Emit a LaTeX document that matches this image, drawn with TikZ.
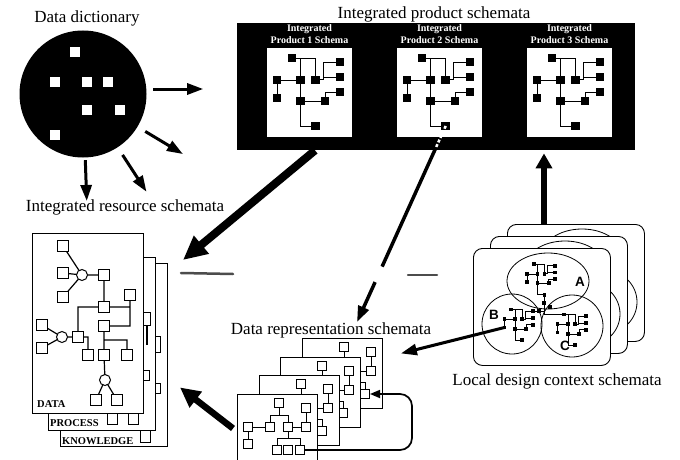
\documentclass[tikz,border=0pt]{standalone}
\usepackage{fontspec}
\setmainfont{Liberation Serif}
\newfontfamily\labelsans{Liberation Sans}
\usetikzlibrary{arrows.meta,calc}

\tikzset{
  % tree of black boxes used in the product schemata (and, scaled, in the context rings)
  pics/prodtree/.style={code={
    \draw[line width=0.7pt]
      (25,10) -| (33.5,32) (25,10) -| (48.7,32)
      (10,32) -- (33.5,32) (10,32) -- (10,50) (33.5,32) -- (33.5,53)
      (48.7,31) -- (56,31) |- (73,14) (56,29) -- (73,29)
      (33.5,53) -- (58,53) (58,53) |- (73,44) (33.5,53) |- (48.7,78);
    \foreach \x/\y in {25/10,73/14,10/32,33.5/32,48.7/32,73/29,10/50,33.5/53,58/53,73/44,48.7/78}
      \fill (\x-4.25,\y-4.25) rectangle (\x+4.25,\y+4.25);
    \coordinate (-a) at (25,10);
    \coordinate (-r1) at (73,14);
    \coordinate (-c1) at (10,50);
    \coordinate (-d) at (48.7,78);
  }},
  % tree of open boxes on a data representation sheet
  pics/reptree/.style={code={
    \draw[line width=1pt]
      (42,9) -- (42,21) (33,21) -- (51,21) (33,21) -- (33,33) (51,21) -- (51,33)
      (11,33) -- (33,33) (51,33) -- (69,33) (69,14) -- (69,33) (11,33) -- (11,50)
      (51,33) -- (51,44) (40,44) -- (63,44) (40,44) -- (40,56) (63,44) -- (63,56);
    \foreach \x/\y in {42/9,69/14,11/33,33/33,51/33,69/33,11/50,40/56,51/56,63/56}
      \draw[line width=0.9pt, fill=white] (\x-4.5,\y-4.5) rectangle (\x+4.5,\y+4.5);
    \coordinate (-sq) at (63,56);
  }},
  % the three overlapping context rings of a context sheet
  pics/ctxrings/.style={code={
    \draw[line width=0.8pt] (75,33) ellipse [x radius=41pt, y radius=28pt];
    \draw[line width=0.8pt] (39,76) circle [radius=30pt];
    \draw[line width=0.8pt] (99,78) circle [radius=31pt];
  }},
}

\begin{document}
\begin{tikzpicture}[x=1pt,y=-1pt,
  title/.style={font=\fontsize{17}{20}\selectfont, inner sep=0pt},
  paneltitle/.style={font=\fontsize{10}{12}\selectfont\bfseries, text=white, align=center, inner sep=0pt},
  pagetag/.style={font=\fontsize{10.5}{12}\selectfont\bfseries, inner sep=0pt, anchor=base west},
  regionlab/.style={font=\labelsans\fontsize{13.5}{15}\selectfont\bfseries, inner sep=0pt},
  sheet/.style={draw, fill=white, line width=1pt, inner sep=0pt, anchor=north west},
  ctxsheet/.style={sheet, line width=0.9pt, rounded corners=9pt, minimum width=137pt, minimum height=117pt},
  repsheet/.style={sheet, line width=0.9pt, minimum width=80pt, minimum height=70pt},
  thinarrow/.style={line width=3pt, -{Triangle[length=16pt,width=11pt]}},
  thickarrow/.style={line width=8pt, -{Triangle[length=24pt,width=22pt]}},
  midarrow/.style={line width=6.5pt, -{Triangle[length=20pt,width=19pt]}},
  uparrow/.style={line width=6pt, -{Triangle[length=15pt,width=16pt]}},
  looparrow/.style={line width=1.7pt, rounded corners=12pt, -{Triangle[length=10pt,width=8pt]}},
  openbox/.style={draw, fill=white, line width=1pt},
]
\clip (0,0) rectangle (680,460);
\fill[white] (0,0) rectangle (680,460);

% ---------- data dictionary ----------
\node[title] (dictlab) at (87,18) {Data dictionary};
\node[circle, fill=black, minimum size=127pt, inner sep=0pt] (dict) at (83,94) {};
\foreach \x/\y in {75/52,55/82,87/82,108/82,87/110,120/110,55/135}
  \fill[white] (\x-5,\y-5) rectangle (\x+5,\y+5);

% ---------- integrated product schemata ----------
\node[title] (prodlab) at (434,14) {Integrated product schemata};
\node[fill=black, minimum width=398pt, minimum height=127pt, inner sep=0pt, anchor=north west] (prodbox) at (237,23) {};
\foreach \i/\x in {1/267,2/397,3/527}{
  \node[fill=white, minimum width=85pt, minimum height=89pt, inner sep=0pt, anchor=north west] (panel\i) at (\x,48) {};
  \node[paneltitle] (ptitle\i) at (\x+42.5,34) {Integrated\\Product \i\ Schema};
  \pic (pt\i) at (\x,48) {prodtree};
}

% ---------- integrated resource schemata ----------
\node[title] (reslab) at (125,207) {Integrated resource schemata};
\node[sheet, minimum width=107pt, minimum height=183pt] (know) at (60,263) {};
\draw[openbox] (150,336) rectangle (160,352);
\draw[openbox] (150,383) rectangle (160,393);
\draw[openbox] (140,426) rectangle (150,442);
\node[pagetag] (tagknow) at (62,444) {KNOWLEDGE};
\node[sheet, minimum width=107pt, minimum height=173pt] (proc) at (48,257) {};
\draw[openbox] (139,312) rectangle (150,325);
\draw[line width=1.2pt] (147,325) -- (147,345);
\draw[openbox] (139,370) rectangle (149,380);
\draw[openbox] (107,408) rectangle (117,424);
\draw[openbox] (128,408) rectangle (138,424);
\node[pagetag] (tagproc) at (50,426) {PROCESS};
\node[sheet, minimum width=111pt, minimum height=180pt] (data) at (32,233) {};
\node[pagetag] (tagdata) at (37,407) {DATA};
\draw[line width=1.2pt]
  (63,246) -- (82,275) (63,273) -- (82,275) (63,297) -- (82,275) (82,275) -- (104,275)
  (104,275) -- (104,307) (104,307) -| (78,337) (104,307) -- (130,307)
  (130,295) |- (104,326)
  (42,325) -- (62,337) (42,348) -- (62,337) (62,337) -- (78,337)
  (78,337) -| (88,355)
  (104,326) -- (104,355) (104,340) -| (127,355)
  (104,355) -- (105,380) -- (96,400) (105,380) -- (117,400);
\foreach \x/\y in {63/246,63/273,63/297,104/275,104/307,130/295,42/325,42/348,78/337,104/326,88/355,104/355,127/355,96/400,117/400}
  \draw[openbox] (\x-5.25,\y-5.25) rectangle (\x+5.25,\y+5.25);
\foreach \x/\y in {82/275,62/337,105/380}
  \draw[openbox] (\x,\y) circle [radius=5.5pt];

% ---------- data representation schemata ----------
\node[title] (replab) at (331,330) {Data representation schemata};
\foreach \i/\x/\y in {4/302/338,3/280/357,2/259/375,1/237/394}{
  \node[repsheet] (rep\i) at (\x,\y) {};
  \pic (rp\i) at (\x,\y) {reptree};
}
\draw[looparrow] ([xshift=4.5pt]rp1-sq) -| ($(rp4-sq)+(47,0)$) -- ([xshift=5pt]rp4-sq);

% ---------- local design context schemata ----------
\node[title] (loclab) at (557,381) {Local design context schemata};
\foreach \i/\x/\y in {3/507/224,2/490/236,1/473/248}{
  \node[ctxsheet] (loc\i) at (\x,\y) {};
  \pic (rings\i) at (\x,\y) {ctxrings};
}
\pic[scale=0.45] (ta) at (522.5,259.5) {prodtree};
\pic[scale=0.45] (tb) at (500,305) {prodtree};
\pic[scale=0.45] (tc) at (553,310) {prodtree};
\draw[line width=0.7pt] (ta-d) |- (tc-a) (ta-d) |- (tb-r1);
\foreach \x/\y in {544/303,550/307,539/311}
  \fill (\x-2,\y-2) rectangle (\x+2,\y+2);
\node[regionlab] (labA) at (580,282) {A};
\node[regionlab] (labB) at (494,315) {B};
\node[regionlab] (labC) at (565,346) {C};

% ---------- scanner smudges ----------
\draw[black!70, line width=2.5pt, line cap=round] (181,273) -- (233,274);
\draw[black!70, line width=2.5pt, line cap=round] (408,275) -- (437,275);

% ---------- flows ----------
\draw[thinarrow] ([xshift=6.5pt,yshift=5pt]dict.east) -- ++(50,0);
\draw[thinarrow] ($(dict.center)!1.14!(dict.-31)$) -- ($(dict.center)!1.83!(dict.-31)$);
\draw[thinarrow] ($(dict.center)!1.14!(dict.-57)$) -- ($(dict.center)!1.83!(dict.-57)$);
\draw[thinarrow] ($(dict.center)!1.04!(dict.-88)$) -- ($(dict.center)!1.68!(dict.-88)$);

\coordinate (restip) at (183,260);
\draw[thickarrow] ([xshift=78pt]prodbox.south west) -- (restip);

\coordinate (reptip) at ([xshift=26pt]replab.north);
\draw[white, line width=2.5pt, dash pattern=on 3pt off 2pt] (pt2-d) -- ($(pt2-d)!0.11!(reptip)$);
\draw[line width=3.5pt] ($(pt2-d)!0.11!(reptip)$) -- ($(pt2-d)!0.717!(reptip)$);
\draw[thinarrow, line width=3.5pt] ($(pt2-d)!0.796!(reptip)$) -- (reptip);

\draw[uparrow] ([xshift=37pt]loc3.north west) -- ($(prodbox.south west)+(307,3)$);

\draw[thinarrow] (tb-c1) -- ([shift={(18pt,20pt)}]rep4.east);

\draw[midarrow] ([xshift=-4pt,yshift=1pt]rep1.west) -- ($(rep1.west)+(-57,-42)$);
\end{tikzpicture}
\end{document}
